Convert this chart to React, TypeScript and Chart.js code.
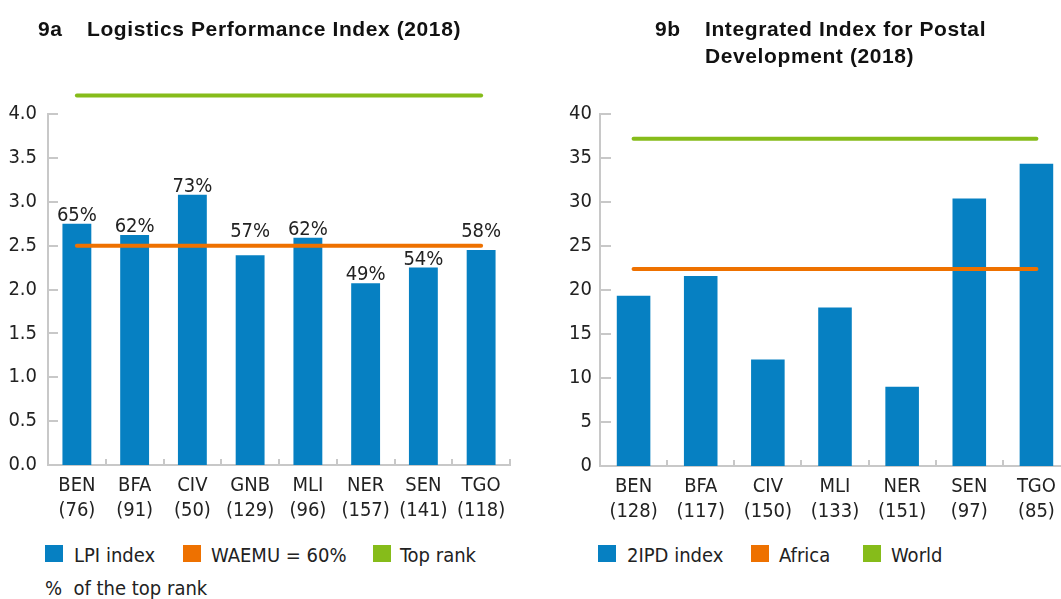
import React, { useEffect, useRef } from "react";
import { Chart, registerables } from "chart.js";

Chart.register(...registerables);

const lpiCategories = ["BEN", "BFA", "CIV", "GNB", "MLI", "NER", "SEN", "TGO"];
const lpiRanks = ["(76)", "(91)", "(50)", "(129)", "(96)", "(157)", "(141)", "(118)"];
const lpiValues = [2.75, 2.62, 3.08, 2.39, 2.59, 2.07, 2.25, 2.45];
const lpiPercent = ["65%", "62%", "73%", "57%", "62%", "49%", "54%", "58%"];
const lpiWaemu = 2.5;
const lpiTopRank = 4.21;

const ipdCategories = ["BEN", "BFA", "CIV", "MLI", "NER", "SEN", "TGO"];
const ipdRanks = ["(128)", "(117)", "(150)", "(133)", "(151)", "(97)", "(85)"];
const ipdValues = [19.35, 21.6, 12.1, 18.0, 9.0, 30.4, 34.35];
const ipdAfrica = 22.4;
const ipdWorld = 37.2;

const BLUE = "#0680C2";
const ORANGE = "#EE7100";
const GREEN = "#86BC1A";
const AXIS = "#C8C8C8";
const TEXT = "#222222";
const NARROW = "'Liberation Sans Narrow', 'Arial Narrow', 'DejaVu Sans Condensed', sans-serif";
const BOLD = "'Liberation Sans', Arial, sans-serif";

const tickPlugin = (yLen: number, xLen: number) => ({
  id: "inwardTicks",
  afterDraw(chart: any) {
    const { ctx, chartArea, scales } = chart;
    const y = scales.y;
    const x = scales.x;
    ctx.save();
    ctx.strokeStyle = AXIS;
    ctx.lineWidth = 2;
    y.ticks.forEach((t: any) => {
      const py = Math.round(y.getPixelForValue(t.value));
      ctx.beginPath();
      ctx.moveTo(chartArea.left, py);
      ctx.lineTo(chartArea.left + yLen, py);
      ctx.stroke();
    });
    const n = x.ticks.length;
    const w = (chartArea.right - chartArea.left) / n;
    for (let i = 1; i <= n; i++) {
      const px = Math.round(x.getPixelForValue(i - 1) + w / 2);
      ctx.beginPath();
      ctx.moveTo(px, chartArea.bottom);
      ctx.lineTo(px, chartArea.bottom - xLen);
      ctx.stroke();
    }
    ctx.restore();
  },
});

const percentPlugin = (labels: string[], refValue: number) => ({
  id: "percentLabels",
  afterDatasetsDraw(chart: any) {
    const { ctx } = chart;
    const meta = chart.getDatasetMeta(2);
    const lineY = chart.scales.y.getPixelForValue(refValue);
    ctx.save();
    ctx.font = `20px ${NARROW}`;
    ctx.fillStyle = TEXT;
    ctx.textAlign = "center";
    ctx.textBaseline = "alphabetic";
    meta.data.forEach((bar: any, i: number) => {
      let base = bar.y - 3;
      const top = base - 14;
      if (base > lineY - 2.5 && top < lineY + 2.5) base = lineY - 9;
      ctx.fillText(labels[i], bar.x, base);
    });
    ctx.restore();
  },
});

function buildConfig(
  cats: string[],
  ranks: string[],
  values: number[],
  orange: number,
  green: number,
  yMax: number,
  yStep: number,
  yWidth: number,
  xHeight: number,
  padRight: number,
  tickPad: number,
  fmt: (v: number) => string,
  plugins: any[]
): any {
  const labels = cats.map((c, i) => [c, ranks[i]]);
  return {
    type: "bar",
    data: {
      labels,
      datasets: [
        {
          type: "line",
          data: cats.map(() => green),
          borderColor: GREEN,
          borderWidth: 4,
          borderCapStyle: "round",
          pointRadius: 0,
          clip: false,
          order: 1,
        },
        {
          type: "line",
          data: cats.map(() => orange),
          borderColor: ORANGE,
          borderWidth: 4,
          borderCapStyle: "round",
          pointRadius: 0,
          clip: false,
          order: 1,
        },
        {
          type: "bar",
          data: values,
          backgroundColor: BLUE,
          barPercentage: 0.5,
          categoryPercentage: 1.0,
          order: 3,
        },
      ],
    },
    options: {
      responsive: false,
      animation: false,
      events: [],
      layout: { padding: { top: 114, right: padRight, left: 0, bottom: 0 } },
      plugins: { legend: { display: false }, tooltip: { enabled: false }, title: { display: false } },
      scales: {
        x: {
          offset: true,
          grid: { display: false, drawTicks: false },
          border: { display: true, color: AXIS, width: 2 },
          ticks: {
            color: TEXT,
            padding: 8,
            maxRotation: 0,
            autoSkip: false,
            font: { family: NARROW, size: 20, lineHeight: 1.25 },
          },
          afterFit(s: any) {
            s.height = xHeight;
          },
        },
        y: {
          min: 0,
          max: yMax,
          grid: { display: false, drawTicks: false },
          border: { display: true, color: AXIS, width: 2 },
          ticks: {
            stepSize: yStep,
            color: TEXT,
            padding: tickPad,
            font: { family: NARROW, size: 20 },
            callback: (v: any) => fmt(Number(v)),
          },
          afterFit(s: any) {
            s.width = yWidth;
          },
        },
      },
    },
    plugins,
  };
}

function ChartCanvas({ config, left, width, height }: any) {
  const ref = useRef<HTMLCanvasElement>(null);
  useEffect(() => {
    const chart = new Chart(ref.current as HTMLCanvasElement, config);
    return () => chart.destroy();
  }, []);
  return (
    <canvas
      ref={ref}
      width={width}
      height={height}
      style={{ position: "absolute", left, top: 0, width, height }}
    />
  );
}

const textStyle: any = {
  position: "absolute",
  fontFamily: NARROW,
  fontSize: 20,
  lineHeight: "20px",
  color: TEXT,
  whiteSpace: "nowrap",
};

function Swatch({ x, color }: { x: number; color: string }) {
  return (
    <div
      style={{ position: "absolute", left: x, top: 545, width: 18, height: 17, background: color }}
    />
  );
}

export default function App() {
  const leftConfig = buildConfig(
    lpiCategories,
    lpiRanks,
    lpiValues,
    lpiWaemu,
    lpiTopRank,
    4,
    0.5,
    48,
    65,
    20,
    11,
    (v) => v.toFixed(1),
    [tickPlugin(10, 6), percentPlugin(lpiPercent, lpiWaemu)]
  );
  const rightConfig = buildConfig(
    ipdCategories,
    ipdRanks,
    ipdValues,
    ipdAfrica,
    ipdWorld,
    40,
    5,
    50,
    64,
    10,
    8,
    (v) => String(v),
    [tickPlugin(11, 6)]
  );
  const titleStyle: any = {
    position: "absolute",
    fontFamily: BOLD,
    fontWeight: "bold",
    fontSize: 21,
    lineHeight: "27px",
    color: "#111",
    whiteSpace: "nowrap",
    letterSpacing: "0.6px",
  };
  return (
    <div
      style={{
        position: "fixed",
        left: 0,
        top: 0,
        width: 1061,
        height: 599,
        overflow: "hidden",
        background: "#fff",
      }}
    >
      <ChartCanvas config={leftConfig} left={0} width={530} height={530} />
      <ChartCanvas config={rightConfig} left={550} width={530} height={530} />

      <div style={{ ...titleStyle, left: 38, top: 15 }}>9a</div>
      <div style={{ ...titleStyle, left: 87, top: 15 }}>Logistics Performance Index (2018)</div>
      <div style={{ ...titleStyle, left: 655, top: 15 }}>9b</div>
      <div style={{ ...titleStyle, left: 705, top: 15 }}>
        Integrated Index for Postal
        <br />
        Development (2018)
      </div>

      <Swatch x={45} color={BLUE} />
      <div style={{ ...textStyle, left: 74, top: 545 }}>LPI index</div>
      <Swatch x={183} color={ORANGE} />
      <div style={{ ...textStyle, left: 211, top: 545 }}>WAEMU = 60%</div>
      <Swatch x={373} color={GREEN} />
      <div style={{ ...textStyle, left: 400, top: 545 }}>Top rank</div>
      <div style={{ ...textStyle, left: 45, top: 578 }}>%&nbsp;&nbsp;of the top rank</div>

      <Swatch x={598} color={BLUE} />
      <div style={{ ...textStyle, left: 627, top: 545 }}>2IPD index</div>
      <Swatch x={751} color={ORANGE} />
      <div style={{ ...textStyle, left: 779, top: 545 }}>Africa</div>
      <Swatch x={863} color={GREEN} />
      <div style={{ ...textStyle, left: 891, top: 545 }}>World</div>
    </div>
  );
}
